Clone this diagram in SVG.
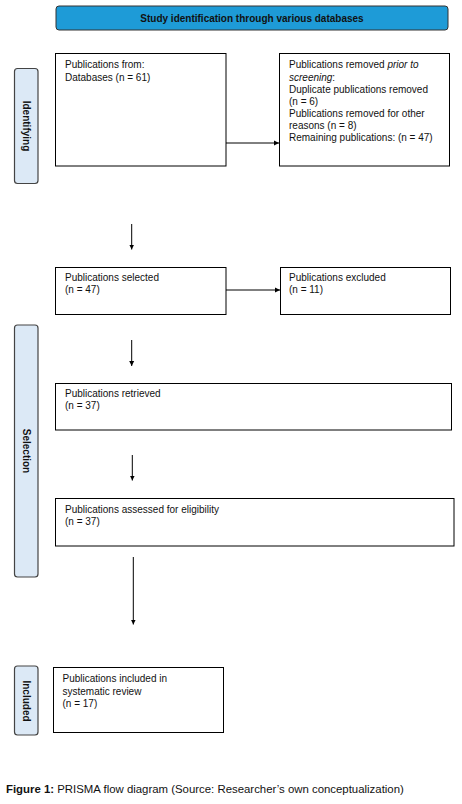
<svg xmlns="http://www.w3.org/2000/svg" width="462" height="804" viewBox="0 0 462 804">
<style>
.bx{fill:#fff;stroke:#000;stroke-width:1}
.side{fill:#dce9f6;stroke:#444;stroke-width:1.2}
.t{font-family:"Liberation Sans",Arial,sans-serif;font-size:10px;fill:#111}
.sb{font-family:"Liberation Sans",Arial,sans-serif;font-size:10px;font-weight:bold;fill:#111}
.ln{stroke:#000;stroke-width:1;fill:none;marker-end:url(#ah)}
</style>
<defs>
<marker id="ah" markerWidth="6" markerHeight="6" refX="5" refY="3" orient="auto" markerUnits="userSpaceOnUse">
<path d="M0,0.5 L5,3 L0,5.5 Z" fill="#000"/>
</marker>
</defs>
<rect width="462" height="804" fill="#fff"/>
<g id="banner">
<rect x="56" y="6" width="392" height="24" rx="3" fill="#1e9bd7" stroke="#333" stroke-width="1"/>
<text class="sb" x="252" y="21.5" text-anchor="middle">Study identification through various databases</text>
</g>
<g id="side-identifying">
<rect class="side" x="14.5" y="68.5" width="23.5" height="115" rx="3"/>
<text class="sb" transform="translate(23,126) rotate(90)" text-anchor="middle">Identifying</text>
</g>
<g id="side-selection">
<rect class="side" x="14.5" y="325" width="23.5" height="252" rx="3"/>
<text class="sb" transform="translate(23,451) rotate(90)" text-anchor="middle">Selection</text>
</g>
<g id="side-included">
<rect class="side" x="14.5" y="666" width="23.5" height="69" rx="3"/>
<text class="sb" transform="translate(23,701) rotate(90)" text-anchor="middle">Included</text>
</g>
<g id="n1">
<rect class="bx" x="55.5" y="53.5" width="170.5" height="112.5"/>
<text class="t" x="65" y="68">Publications from:</text>
<text class="t" x="65" y="80.5">Databases (n = 61)</text>
</g>
<g id="n2">
<rect class="bx" x="279.5" y="53.5" width="170" height="112.5"/>
<text class="t" x="289" y="68">Publications removed <tspan font-style="italic">prior to</tspan></text>
<text class="t" x="289" y="80.5"><tspan font-style="italic">screening</tspan>:</text>
<text class="t" x="289" y="92.5">Duplicate publications removed</text>
<text class="t" x="289" y="104.5">(n = 6)</text>
<text class="t" x="289" y="116.5">Publications removed for other</text>
<text class="t" x="289" y="128.5">reasons (n = 8)</text>
<text class="t" x="289" y="140.5">Remaining publications: (n = 47)</text>
</g>
<g id="n3">
<rect class="bx" x="55.5" y="267.5" width="170.5" height="47"/>
<text class="t" x="65" y="281">Publications selected</text>
<text class="t" x="65" y="293">(n = 47)</text>
</g>
<g id="n4">
<rect class="bx" x="280.5" y="267.5" width="170" height="47"/>
<text class="t" x="289" y="281">Publications excluded</text>
<text class="t" x="289" y="293">(n = 11)</text>
</g>
<g id="n5">
<rect class="bx" x="55.5" y="383.5" width="396" height="46.5"/>
<text class="t" x="65" y="397">Publications retrieved</text>
<text class="t" x="65" y="409">(n = 37)</text>
</g>
<g id="n6">
<rect class="bx" x="55.5" y="498.5" width="398.5" height="47.5"/>
<text class="t" x="65" y="513">Publications assessed for eligibility</text>
<text class="t" x="65" y="525">(n = 37)</text>
</g>
<g id="n7">
<rect class="bx" x="53.5" y="667.5" width="170" height="65"/>
<text class="t" x="62.5" y="682">Publications included in</text>
<text class="t" x="62.5" y="694.5">systematic review</text>
<text class="t" x="62.5" y="706.5">(n = 17)</text>
</g>
<g id="connectors">
<line class="ln" x1="226" y1="143" x2="279" y2="143"/>
<line class="ln" x1="131.7" y1="224" x2="131.7" y2="249.5"/>
<line class="ln" x1="226" y1="290" x2="280" y2="290"/>
<line class="ln" x1="131.7" y1="340" x2="131.7" y2="366"/>
<line class="ln" x1="132.3" y1="455" x2="132.3" y2="480.5"/>
<line class="ln" x1="133.3" y1="557" x2="133.3" y2="624.5"/>
</g>
<text x="6" y="793" font-family="'Liberation Sans',Arial,sans-serif" font-size="11.4" fill="#111"><tspan font-weight="bold">Figure 1:</tspan> PRISMA flow diagram (Source: Researcher’s own conceptualization)</text>
</svg>
